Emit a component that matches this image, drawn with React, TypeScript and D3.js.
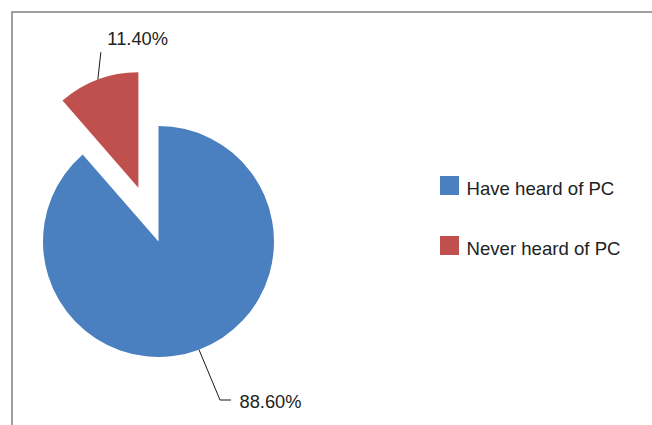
import React from "react";
import * as d3 from "d3";

const categories = ["Have heard of PC", "Never heard of PC"];
const values = [88.6, 11.4];
const valueLabels = ["88.60%", "11.40%"];
const colors = ["#4a80bf", "#c0504d"];

const W = 652;
const H = 425;
const cx = 158.5;
const cy = 241.5;
const R = 115.5;
const explode = [0, 57.5];
// leader line elbows and label anchors relative to slice center
const leaders = [
  { elbow: [61.5, 158.5], end: [72.5, 158.5], text: [81, 166] },
  { elbow: [-37.5, -135.5], end: [-37.5, -135.5], text: [-31, -142.5] },
];

export default function App() {
  const pie = d3.pie<number>().sort(null).value((d) => d);
  const arcs = pie(values);
  const arc = d3.arc<d3.PieArcDatum<number>>().innerRadius(0).outerRadius(R);

  return (
    <svg
      width={W}
      height={H}
      style={{ position: "absolute", left: 0, top: 0, display: "block" }}
      fontFamily="'Liberation Sans', Arial, sans-serif"
    >
      <rect x={0} y={0} width={W} height={H} fill="#fff" />
      <rect x={12} y={12} width={W + 40} height={H + 40} fill="none" stroke="#878787" strokeWidth={1.6} />
      {arcs.map((a, i) => {
        const mid = (a.startAngle + a.endAngle) / 2;
        const ox = cx + Math.sin(mid) * explode[i];
        const oy = cy - Math.cos(mid) * explode[i];
        const px = ox + Math.sin(mid) * R;
        const py = oy - Math.cos(mid) * R;
        const L = leaders[i];
        return (
          <g key={i}>
            <path d={arc(a) || ""} transform={`translate(${ox},${oy})`} fill={colors[i]} />
            <polyline
              points={`${px},${py} ${ox + L.elbow[0]},${oy + L.elbow[1]} ${ox + L.end[0]},${oy + L.end[1]}`}
              fill="none"
              stroke="#1a1a1a"
              strokeWidth={1}
            />
            <text x={ox + L.text[0]} y={oy + L.text[1]} fontSize={18.3} fill="#222">
              {valueLabels[i]}
            </text>
          </g>
        );
      })}
      {categories.map((c, i) => (
        <g key={c} transform={`translate(440,${176 + i * 60})`}>
          <rect x={0} y={0} width={19} height={19} fill={colors[i]} />
          <text x={26.5} y={18.5} fontSize={18.6} fill="#222">
            {c}
          </text>
        </g>
      ))}
    </svg>
  );
}
